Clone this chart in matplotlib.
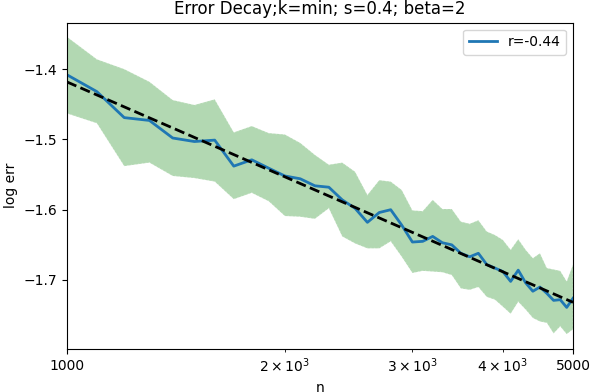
import numpy as np
import matplotlib
matplotlib.use('Agg')
import matplotlib.pyplot as plt

# sample sizes
n = np.arange(1000, 5001, 100)

# mean log error (blue line)
log_err = [-1.408, -1.432, -1.469, -1.473, -1.498, -1.503, -1.501, -1.538, -1.529, -1.541,
           -1.552, -1.556, -1.566, -1.568, -1.586, -1.598, -1.618, -1.604, -1.600, -1.622,
           -1.646, -1.645, -1.638, -1.647, -1.650, -1.662, -1.667, -1.662, -1.678, -1.683,
           -1.688, -1.702, -1.686, -1.704, -1.716, -1.710, -1.719, -1.729, -1.728, -1.739,
           -1.726]

# band bounds
upper = [-1.354, -1.386, -1.400, -1.418, -1.444, -1.451, -1.443, -1.490, -1.481, -1.491,
         -1.493, -1.505, -1.522, -1.536, -1.533, -1.546, -1.579, -1.558, -1.560, -1.572,
         -1.601, -1.602, -1.586, -1.599, -1.599, -1.617, -1.620, -1.615, -1.631, -1.636,
         -1.643, -1.657, -1.642, -1.657, -1.669, -1.662, -1.683, -1.685, -1.687, -1.702,
         -1.678]
lower = [-1.463, -1.477, -1.538, -1.533, -1.552, -1.555, -1.560, -1.585, -1.576, -1.588,
         -1.609, -1.610, -1.613, -1.598, -1.638, -1.648, -1.655, -1.655, -1.645, -1.667,
         -1.690, -1.687, -1.688, -1.689, -1.693, -1.712, -1.714, -1.710, -1.724, -1.728,
         -1.738, -1.748, -1.731, -1.742, -1.754, -1.759, -1.761, -1.776, -1.766, -1.777,
         -1.770]

# linear fit in log10(n)
slope, intercept = np.polyfit(np.log10(n), log_err, 1)
fit = intercept + slope * np.log10(n)

fig = plt.figure(figsize=(5.92, 3.92), dpi=100)
ax = fig.add_axes([0.113, 0.110, 0.855, 0.832])

ax.fill_between(n, lower, upper, facecolor='green', edgecolor='white',
                alpha=0.3, linestyle=':', linewidth=1)
ax.plot(n, log_err, color='tab:blue', linewidth=2, label='r=-0.44')
ax.plot(n, fit, 'k--', linewidth=2)

ax.set_xscale('log')
ax.set_xlim(1000, 5000)
ax.set_ylim(-1.798, -1.334)
ax.set_xticks([1000, 5000])
ax.set_xticklabels(['1000', '5000'])
ax.set_yticks([-1.4, -1.5, -1.6, -1.7])

ax.set_xlabel('n')
ax.set_ylabel('log err')
ax.set_title('Error Decay;k=min; s=0.4; beta=2')
ax.legend(loc='upper right')

fig.savefig('out.png', dpi=100)
